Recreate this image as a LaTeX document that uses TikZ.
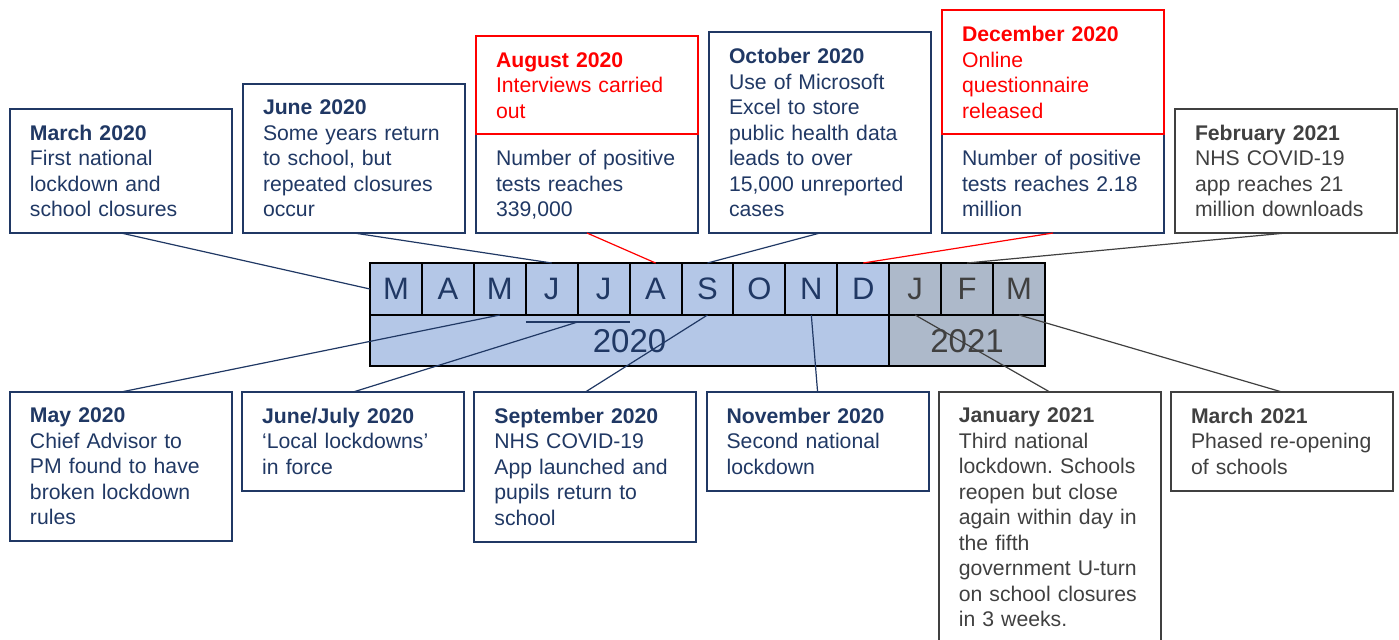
\documentclass[tikz,border=0pt]{standalone}
\usepackage{fontspec}
\setmainfont{Liberation Sans}
\usetikzlibrary{positioning}
\frenchspacing

\definecolor{navy}{HTML}{203864}
\definecolor{slate}{HTML}{404040}
\definecolor{alert}{HTML}{FF0000}
\definecolor{fill20}{HTML}{B4C7E7}
\definecolor{fill21}{HTML}{ADB9CA}

\tikzset{
  event/.style={draw=navy, text=navy, line width=1pt, outer sep=0pt,
    text width=91pt, inner xsep=10pt, inner ysep=8pt, align=left,
    font=\fontsize{10.6}{12.75}\selectfont},
  redevent/.style={event, draw=alert, text=alert},
  grayevent/.style={event, draw=slate, text=slate},
  month/.style={draw=black, line width=1pt, fill=fill20, text=navy,
    minimum width=25.96pt, minimum height=26pt, inner sep=0pt, outer sep=0pt,
    font=\fontsize{15.5}{15.5}\selectfont},
  month21/.style={month, fill=fill21, text=slate},
  yearbox/.style={month, minimum height=25.5pt, text depth=-1.5pt,
    font=\fontsize{16.5}{16.5}\selectfont},
  link/.style={draw=navy, line width=0.6pt},
  redlink/.style={link, draw=alert},
  graylink/.style={link, draw=slate}
}

\begin{document}
\begin{tikzpicture}[x=0.5pt,y=-0.5pt]
  \useasboundingbox (0,0) rectangle (1399,639);

  % months
  \node[month] (m1) [anchor=north west] at (370,263) {M};
  \node[month] (m2) [right=0pt of m1] {A};
  \node[month] (m3) [right=0pt of m2] {M};
  \node[month] (m4) [right=0pt of m3] {J};
  \node[month] (m5) [right=0pt of m4] {J};
  \node[month] (m6) [right=0pt of m5] {A};
  \node[month] (m7) [right=0pt of m6] {S};
  \node[month] (m8) [right=0pt of m7] {O};
  \node[month] (m9) [right=0pt of m8] {N};
  \node[month] (m10) [right=0pt of m9] {D};
  \node[month21] (m11) [right=0pt of m10] {J};
  \node[month21] (m12) [right=0pt of m11] {F};
  \node[month21] (m13) [right=0pt of m12] {M};
  % years
  \node[yearbox, minimum width=259.6pt] (y20) [below=0pt of m1.south west, anchor=north west] {2020};
  \node[yearbox, fill=fill21, text=slate, minimum width=77.88pt] (y21) [right=0pt of y20] {2021};

  % events above the line
  \node[event, anchor=south west] (mar20) at (10,233)
    {\textbf{March 2020}\\First national\\lockdown and\\school closures};
  \node[event] (jun20) [right=5.5pt of mar20.south east, anchor=south west]
    {\textbf{June 2020}\\Some years return\\to school, but\\repeated closures\\occur};
  \node[event] (aug20) [right=5.5pt of jun20.south east, anchor=south west]
    {Number of positive\\tests reaches\\339\smash{,}000};
  \node[redevent] (aug20top) [above=0pt of aug20]
    {\textbf{August 2020}\\Interviews carried\\out};
  \node[event] (oct20) [right=5.5pt of aug20.south east, anchor=south west]
    {\textbf{October 2020}\\Use of Microsoft\\Excel to store\\public health data\\leads to over\\15,000 unreported\\cases};
  \node[event] (dec20) [right=5.5pt of oct20.south east, anchor=south west]
    {Number of positive\\tests reaches 2.18\\million};
  \node[redevent] (dec20top) [above=0pt of dec20]
    {\textbf{December 2020}\\Online\\questionnaire\\released};
  \node[grayevent] (feb21) [right=5.5pt of dec20.south east, anchor=south west]
    {\textbf{February 2021}\\NHS COVID-19\\app reaches 21\\million downloads};

  % events below the line
  \node[event, anchor=north west] (may20) at (10,392)
    {\textbf{May 2020}\\Chief Advisor to\\PM found to have\\broken lockdown\\rules};
  \node[event] (junjul) [right=5.1pt of may20.north east, anchor=north west]
    {\textbf{June/July 2020}\\‘Local lockdowns’\\in force};
  \node[event] (sep20) [right=5.1pt of junjul.north east, anchor=north west]
    {\textbf{September 2020}\\NHS COVID-19\\App launched and\\pupils return to\\school};
  \node[event] (nov20) [right=5.1pt of sep20.north east, anchor=north west]
    {\textbf{November 2020}\\Second national\\lockdown};
  \node[grayevent] (jan21) [right=5.1pt of nov20.north east, anchor=north west]
    {\textbf{January 2021}\\Third national\\lockdown. Schools\\reopen but close\\again within day in\\the fifth\\government U-turn\\on school closures\\in 3 weeks.};
  \node[grayevent] (mar21) [right=5.1pt of jan21.north east, anchor=north west]
    {\textbf{March 2021}\\Phased re-opening\\of schools};

  % connectors
  \draw[link] (mar20.south) -- (m1.west);
  \draw[link] (jun20.south) -- (m4.north);
  \draw[redlink] (aug20.south) -- (m6.north);
  \draw[link] (oct20.south) -- (m7.north);
  \draw[redlink] (dec20.south) -- (m10.north);
  \draw[graylink] (feb21.south) -- (m12.north);

  \draw[link] (may20.north) -- (m3.south);
  \draw[link] ([yshift=-3.5pt]m4.south west) -- ([yshift=-3.5pt]m5.south east);
  \draw[link] (junjul.north) -- ([yshift=-3.5pt]m4.south east);
  \draw[link] (sep20.north) -- (m7.south);
  \draw[link] (nov20.north) -- (m9.south);
  \draw[graylink] (jan21.north) -- (m11.south);
  \draw[graylink] (mar21.north) -- (m13.south);
\end{tikzpicture}
\end{document}
